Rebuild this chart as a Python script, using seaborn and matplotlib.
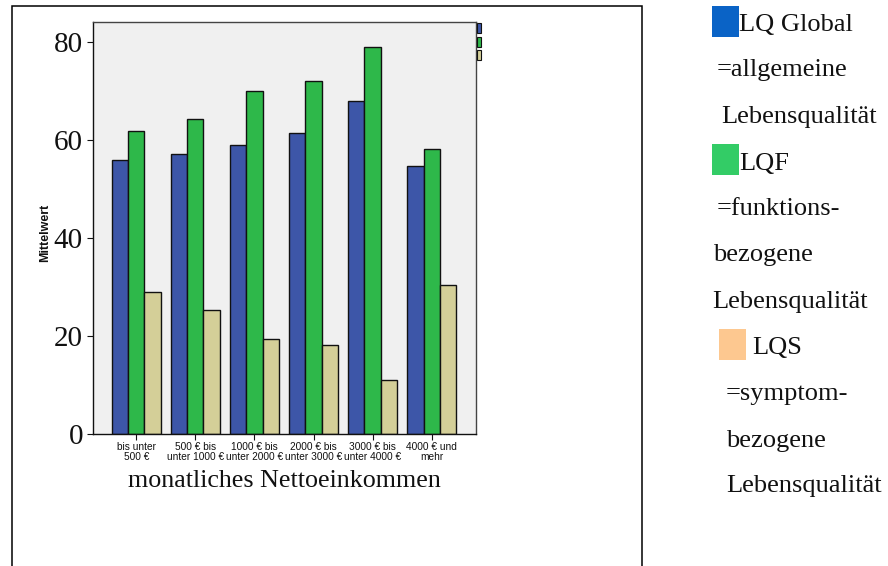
import numpy as np
import pandas as pd
import matplotlib
matplotlib.use("Agg")
import matplotlib.pyplot as plt
from matplotlib.patches import Rectangle
import seaborn as sns

# Mean scores per income bracket
einkommen = ["bis unter\n500 €", "500 € bis\nunter 1000 €", "1000 € bis\nunter 2000 €",
             "2000 € bis\nunter 3000 €", "3000 € bis\nunter 4000 €", "4000 € und\nmehr"]
lq_global = [56.0, 57.1, 59.0, 61.5, 67.9, 54.6]
lqf = [61.9, 64.3, 70.0, 72.1, 79.0, 58.2]
lqs = [29.0, 25.2, 19.4, 18.1, 11.1, 30.3]
skalen = ["LQ Global", "LQF", "LQS"]
y_ticks = [0, 20, 40, 60, 80]

bar_colors = ["#3d56a8", "#2eb84a", "#d4cf98"]
key_colors = ["#0a63c6", "#33cc66", "#fdc890"]

df = pd.DataFrame({
    "Einkommen": einkommen * 3,
    "Mittelwert": lq_global + lqf + lqs,
    "Skala": [s for s in skalen for _ in einkommen],
})

sns.set_theme(style="white")
plt.rcParams["font.family"] = ["Liberation Sans", "DejaVu Sans"]

W, H = 888, 566
fig = plt.figure(figsize=(W / 100, H / 100), dpi=100)
fig.patch.set_facecolor("white")

def fx(px):
    return px / W

def fy(py):
    return 1 - py / H

ax = fig.add_axes([fx(92.7), fy(434), fx(475.7) - fx(92.7), fy(22.3) - fy(434)])
ax.set_facecolor("#f0f0f0")

sns.barplot(data=df, x="Einkommen", y="Mittelwert", hue="Skala", order=einkommen,
            hue_order=skalen, palette=bar_colors, width=0.83, edgecolor="#111111",
            linewidth=1.0, saturation=1, legend=False, ax=ax)

ax.set_xlim(-0.736, 5.744)
ax.set_ylim(0, 84.0)
ax.set_yticks(y_ticks)
ax.set_yticklabels([str(v) for v in y_ticks], family=["Liberation Serif"], fontsize=21)
ax.tick_params(axis="y", left=True, length=4, width=0.8, pad=3, colors="#111111")
ax.tick_params(axis="x", bottom=True, length=4, width=0.8, pad=2, colors="#111111")
for lab in ax.get_xticklabels():
    lab.set_fontsize(7.3)
    lab.set_linespacing(0.95)

for side, sp in ax.spines.items():
    sp.set_visible(True)
    sp.set_linewidth(1.0)
    sp.set_color("#111111" if side in ("left", "bottom") else "#444444")

ax.set_xlabel("monatliches Nettoeinkommen", family=["Liberation Serif"], fontsize=18.7,
              labelpad=6, color="#111111")
ax.set_ylabel("")
fig.text(fx(45), fy(233), "Mittelwert", rotation=90, ha="center", va="center",
         fontsize=9, fontweight="bold", color="#111111")

# clipped legend keys at the right edge of the plot area
for i, c in enumerate(bar_colors):
    y0 = 23.3 + i * 13.4
    fig.patches.append(Rectangle((fx(477.3), fy(y0 + 10)), fx(4), fy(y0) - fy(y0 + 10),
                                 transform=fig.transFigure, facecolor=c,
                                 edgecolor="#111111", linewidth=0.8))

# outer frame
fig.patches.append(Rectangle((fx(11.7), -0.05), fx(642.3) - fx(11.7), fy(6) + 0.05,
                             transform=fig.transFigure, fill=False,
                             edgecolor="black", linewidth=1.1, clip_on=False))

# explanatory key on the right
serif = ["Liberation Serif"]
keysize = 19
squares = [(712, 6, 739, 36.7), (712, 144, 739, 174.7), (719, 329.3, 745.7, 360)]
for (x0, y0, x1, y1), c in zip(squares, key_colors):
    fig.patches.append(Rectangle((fx(x0), fy(y1)), fx(x1) - fx(x0), fy(y0) - fy(y1),
                                 transform=fig.transFigure, facecolor=c, edgecolor="none"))

lines = [
    (739, 30.7, "LQ Global"),
    (717, 76, "=allgemeine"),
    (721, 123, "Lebensqualität"),
    (739, 170, "LQF"),
    (717, 215, "=funktions-"),
    (713, 261, "bezogene"),
    (712.7, 308, "Lebensqualität"),
    (752.7, 354, "LQS"),
    (726, 400, "=symptom-"),
    (726, 446.7, "bezogene"),
    (726, 491.7, "Lebensqualität"),
]
for x, y, t in lines:
    fig.text(fx(x), fy(y), t, family=serif, fontsize=keysize, ha="left",
             va="baseline", color="#111111")

fig.savefig("out.png", dpi=100)
